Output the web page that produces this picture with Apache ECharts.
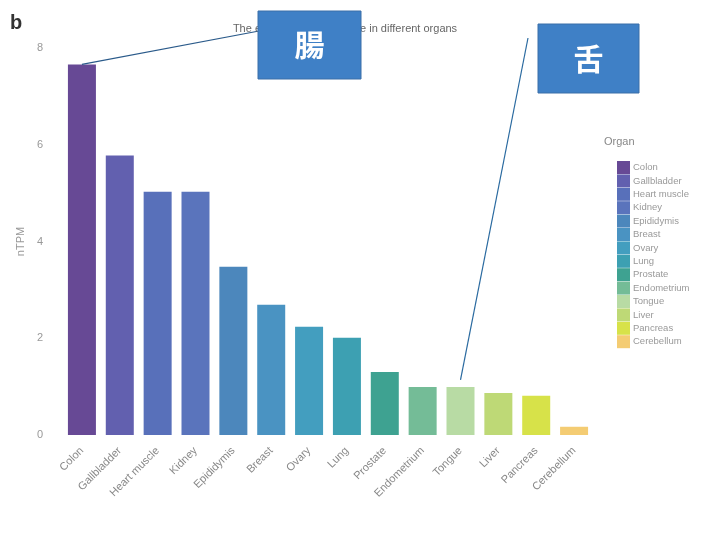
<!DOCTYPE html>
<html><head><meta charset="utf-8">
<script src="https://cdn.jsdelivr.net/npm/echarts@6/dist/echarts.min.js"></script>
<style>html,body{margin:0;padding:0;background:#fff}#c{width:706px;height:533px}</style>
</head><body><div id="c"></div>
<script>
const categories = ['Colon','Gallbladder','Heart muscle','Kidney','Epididymis','Breast','Ovary','Lung','Prostate','Endometrium','Tongue','Liver','Pancreas','Cerebellum'];
const values = [7.66, 5.78, 5.03, 5.03, 3.48, 2.69, 2.24, 2.01, 1.30, 0.99, 0.99, 0.87, 0.81, 0.17];
const colors = ['#5a3a8c','#5553a8','#4a64b4','#4c68b6','#3d7db6','#3b8abd','#3396ba','#2d98ab','#2e9a88','#68b68e','#b2d89c','#b8d66a','#d4e03a','#f3c867'];
const yTicks = [0,2,4,6,8];

const series = categories.map((name,i)=>({
  name, type:'bar', stack:'all', barWidth:28,
  itemStyle:{color:colors[i], opacity:0.92},
  data: categories.map((c,j)=> j===i ? values[i] : '-')
}));
series[0].markLine = {
  symbol:'none', silent:true, label:{show:false},
  lineStyle:{color:'#2a5a8a', width:1.2, type:'solid'},
  data:[
    [{coord:['Colon', values[0]]},{x:259, y:31}],
  ]
};
series[10].markLine = {
  symbol:'none', silent:true, label:{show:false},
  lineStyle:{color:'#2a6aa0', width:1.2, type:'solid'},
  data:[
    [{coord:['Tongue', values[10]+0.15]},{x:528, y:38}],
  ]
};

const chart = echarts.init(document.getElementById('c'));
chart.setOption({
  animation:false,
  title:{text:'The expression of the gene in different organs', left:340, top:18, textAlign:'center',
    textStyle:{fontSize:11, fontWeight:'normal', color:'#666', fontFamily:'Liberation Sans'}},
  grid:{left:63, right:113, top:48, bottom:98},
  legend:{
    orient:'vertical', left:612, top:156, itemWidth:13, itemHeight:13, itemGap:0.4,
    icon:'rect', data:categories,
    textStyle:{fontSize:9.5, color:'#999', padding:[0,0,0,-2], fontFamily:'Liberation Sans'}
  },
  xAxis:{type:'category', data:categories,
    axisLine:{show:false}, axisTick:{show:false},
    axisLabel:{rotate:45, fontSize:11, color:'#888', margin:14, interval:0, fontFamily:'Liberation Sans'}},
  yAxis:{type:'value', min:0, max:8, interval:2,
    name:'nTPM', nameLocation:'middle', nameGap:34, nameTextStyle:{fontSize:11, color:'#999'},
    axisLine:{show:false}, axisTick:{show:false}, splitLine:{show:false},
    axisLabel:{fontSize:11, color:'#999', margin:20}},
  series,
  graphic:[
    {type:'text', left:10, top:13, style:{text:'b', fontSize:20, fontWeight:'bold', fill:'#333', fontFamily:'Liberation Sans'}},
    {type:'text', left:604, top:136, style:{text:'Organ', fontSize:11, fill:'#888', fontFamily:'Liberation Sans'}},
    {type:'rect', shape:{x:258, y:11, width:103, height:68}, z:100,
      style:{fill:'#3f80c6', stroke:'#3a6fa8', lineWidth:1}},
    {type:'text', x:309.5, y:45, z:101, style:{text:'腸', fontSize:30, fill:'#fff', align:'center', verticalAlign:'middle', fontFamily:'Noto Sans CJK JP', fontWeight:'bold'}},
    {type:'rect', shape:{x:538, y:24, width:101, height:69}, z:100,
      style:{fill:'#3f80c6', stroke:'#3a6fa8', lineWidth:1}},
    {type:'text', x:588.5, y:59, z:101, style:{text:'舌', fontSize:30, fill:'#fff', align:'center', verticalAlign:'middle', fontFamily:'Noto Sans CJK JP', fontWeight:'bold'}}
  ]
});
</script></body></html>
